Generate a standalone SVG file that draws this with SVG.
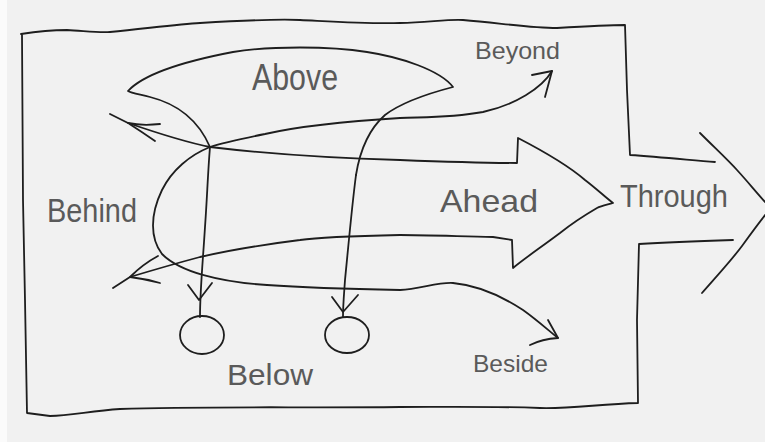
<svg xmlns="http://www.w3.org/2000/svg" width="765" height="442" viewBox="0 0 765 442">
<style>
.ln{fill:none;stroke:#1e1e1e;stroke-width:1.8;stroke-linecap:round;stroke-linejoin:round}
.tx{font-family:"Liberation Sans","DejaVu Sans",sans-serif;fill:#5a5a5a}
</style>
<rect x="0" y="0" width="765" height="442" fill="#f1f1f1"/>
<rect x="0" y="0" width="7" height="442" fill="#fbfbfb"/>
<g id="frame">
<path class="ln" d="M21,34 C40,31 55,30 67,30 C85,31 100,33 110,32 C150,28 180,24 200,23 C250,20 280,19 300,20 C340,22 370,24 400,23 C430,22 450,19 463,20 C500,23 530,28 557,28 C590,26 610,25 625,25 L627,90 L630,155 C660,157 690,160 715,162"/>
<path class="ln" d="M733,240 C700,241 670,242 639,244 L637,320 L638,403 C600,404 570,409 540,408 C480,406 440,407 400,407 C300,408 200,406 120,409 C90,411 70,416 50,416 L27,413 L25,300 L23,200 L22,35"/>
</g>
<g id="through">
<path class="ln" d="M700,133 C715,148 728,160 737,170 C748,182 756,192 766,203"/>
<path class="ln" d="M702,293 C715,278 730,262 742,246 C750,235 758,224 766,214"/>
<text class="tx" x="620" y="207" font-size="32" textLength="108" lengthAdjust="spacingAndGlyphs">Through</text>
</g>
<g id="ahead">
<path class="ln" d="M110,114 L128,123 C160,134 190,143 210,147 C260,153 330,158 400,160 C450,162 490,163 517,163 L518,138 C545,152 570,167 585,180 C598,190 605,197 613,203 C606,205 601,206 597,208 C585,215 570,225 560,233 C540,248 525,258 513,268 L512,240 L493,237 C450,236 420,235 400,235 C350,236 320,237 300,240 C260,245 230,250 200,257 C170,265 150,271 130,277 L113,288"/>
<text class="tx" x="440" y="212" font-size="32" textLength="98" lengthAdjust="spacingAndGlyphs">Ahead</text>
</g>
<g id="behind">
<path class="ln" d="M128,123 Q142,126 160,124 M128,123 Q142,132 155,141"/>
<path class="ln" d="M130,277 Q146,279 160,283 M130,277 Q143,264 158,256"/>
<text class="tx" x="47" y="222" font-size="34" textLength="90" lengthAdjust="spacingAndGlyphs">Behind</text>
</g>
<g id="above">
<path class="ln" d="M210,147 C200,124 182,105 150,97 C138,94 131,93 128,91 C140,78 170,64 233,52 C270,46 330,46 367,52 C400,57 440,70 453,87 C430,93 402,102 385,115 C368,130 360,150 356,175"/>
<text class="tx" x="252" y="90" font-size="36" textLength="86" lengthAdjust="spacingAndGlyphs">Above</text>
</g>
<g id="below">
<ellipse class="ln" cx="202" cy="335" rx="22" ry="19"/>
<ellipse class="ln" cx="347" cy="335" rx="22" ry="18"/>
<text class="tx" x="227" y="385" font-size="30" textLength="86" lengthAdjust="spacingAndGlyphs">Below</text>
</g>
<g id="beyond">
<text class="tx" x="475" y="59" font-size="24" textLength="85" lengthAdjust="spacingAndGlyphs">Beyond</text>
</g>
<g id="beside">
<text class="tx" x="473" y="372" font-size="24" textLength="75" lengthAdjust="spacingAndGlyphs">Beside</text>
</g>
<g id="connectors">
<path class="ln" d="M210,147 C208,170 207,200 205,227 C203,260 200,290 200,317"/>
<path class="ln" d="M188,285 L199,300 L212,283"/>
<path class="ln" d="M356,175 C352,205 348,250 345,280 C344,295 343,305 343,317"/>
<path class="ln" d="M332,297 L343,312 L358,295"/>
<path class="ln" d="M552,71 C542,88 515,105 483,112 C450,118 425,117 400,118 C350,121 300,126 265,134 C240,139 222,143 210,147 C190,155 172,170 162,190 C150,215 150,238 162,254 C180,272 220,282 267,285 C310,288 350,289 400,290 C420,289 438,282 453,283 C475,285 500,295 523,310 C537,320 548,330 558,338"/>
<path class="ln" d="M532,75 L552,71 L545,97"/>
<path class="ln" d="M548,320 L558,338 Q542,339 530,345"/>
</g>
</svg>
